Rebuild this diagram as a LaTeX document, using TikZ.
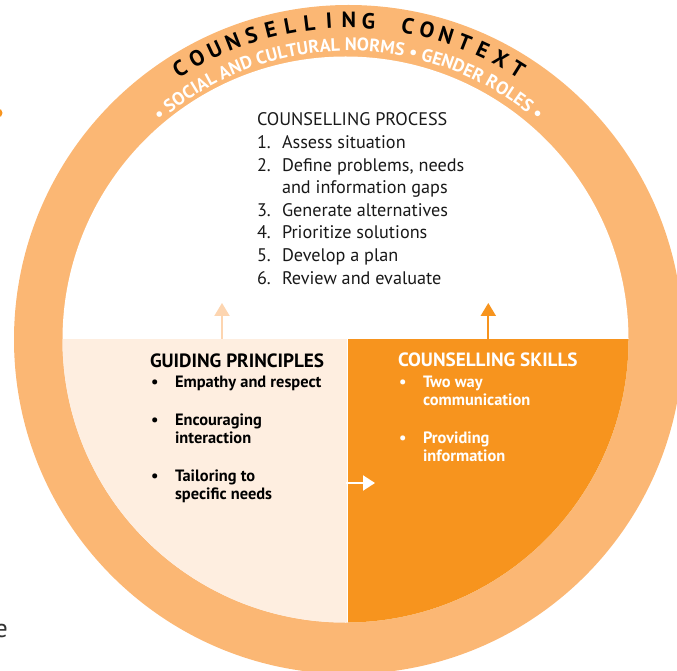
\documentclass[tikz,border=0pt]{standalone}
\usepackage{fontspec}
\setmainfont{PT Sans}
\usetikzlibrary{decorations.text, arrows.meta}
\definecolor{ringc}{RGB}{251,183,116}
\definecolor{lightq}{RGB}{254,238,224}
\definecolor{orangeq}{RGB}{247,148,30}
\definecolor{lightarr}{RGB}{253,213,176}
\begin{document}
\begin{tikzpicture}[x=1pt,y=1pt,
  txt/.style={anchor=base west, inner sep=0pt, outer sep=0pt},
  proc/.style={txt, font=\fontsize{18.2}{20}\selectfont, text=black!90},
  gtitle/.style={txt, font=\fontsize{19.2}{20}\selectfont\bfseries},
  gitem/.style={txt, font=\fontsize{16.4}{18}\selectfont\bfseries},
  arc letter/.style={anchor=base, inner sep=0pt, font=\fontsize{22}{22}\selectfont\bfseries},
  uparrow/.style={line width=2pt, -{Triangle[width=15pt,length=13pt]}}
]
\useasboundingbox (0,0) rectangle (677,670);
\coordinate (O) at (348.5,330.5);
\coordinate (I) at (345.5,330.5);
% ring
\fill[ringc] (O) circle[radius=334.5];
\fill[white] (I) circle[radius=283];
% quadrants
\begin{scope}
  \clip (I) circle[radius=283];
  \fill[lightq] (0,0) rectangle (346.5,331);
  \fill[orangeq] (347.5,0) rectangle (677,331);
  \draw[white, line width=0.8pt] (347,331) -- (347,0);
\end{scope}
% stray marks
\fill[orangeq] (-2,557) circle[radius=4.5];
\node[anchor=base east, inner sep=0pt, font=\fontsize{26}{26}\selectfont, text=black!80] (stray) at (8,33) {e};
% arc texts
\foreach \ch [count=\i from 0] in {C,O,U,N,S,E,L,L,I,N,G,{},C,O,N,T,E,X,T}{
  \pgfmathsetmacro{\ang}{121.9-3.55*\i}
  \node[arc letter, rotate=\ang-90] (L\i) at ([shift={(\ang:311.5)}]O) {\ch};
}
\path[decorate, decoration={text along path, text align=center, text color=white,
  text={|\fontsize{18.1}{18.1}\selectfont\bfseries|• SOCIAL AND CULTURAL NORMS • GENDER ROLES •}}]
  ([shift={(160:288.5)}]O) arc[start angle=160, end angle=20, radius=288.5];
% counselling process
\node[proc] (p0) at (257,544) {COUNSELLING PROCESS};
\node[proc] (n1) at (257,521.4) {1.};
\node[proc] (p1) at (282,521.4) {Assess situation};
\node[proc] (n2) at (257,498.8) {2.};
\node[proc] (p2) at (282,498.8) {Define problems, needs};
\node[proc] (p2b) at (282,476.2) {and information gaps};
\node[proc] (n3) at (257,453.6) {3.};
\node[proc] (p3) at (282,453.6) {Generate alternatives};
\node[proc] (n4) at (257,431) {4.};
\node[proc] (p4) at (282,431) {Prioritize solutions};
\node[proc] (n5) at (257,408.4) {5.};
\node[proc] (p5) at (282,408.4) {Develop a plan};
\node[proc] (n6) at (257,385.8) {6.};
\node[proc] (p6) at (282,385.8) {Review and evaluate};
% guiding principles
\node[gtitle] (gt) at (150,302) {GUIDING PRINCIPLES};
\node[gitem] (gb1) at (151,283) {•};
\node[gitem] (g1) at (175,283) {Empathy and respect};
\node[gitem] (gb2) at (151,245) {•};
\node[gitem] (g2) at (175,245) {Encouraging};
\node[gitem] (g2b) at (175,227) {interaction};
\node[gitem] (gb3) at (151,189) {•};
\node[gitem] (g3) at (175,189) {Tailoring to};
\node[gitem] (g3b) at (175,171) {specific needs};
% counselling skills
\begin{scope}[text=white]
\node[gtitle] (st) at (398,303) {COUNSELLING SKILLS};
\node[gitem] (sb1) at (399,283) {•};
\node[gitem] (s1) at (423,283) {Two way};
\node[gitem] (s1b) at (423,265) {communication};
\node[gitem] (sb2) at (399,227) {•};
\node[gitem] (s2) at (423,227) {Providing};
\node[gitem] (s2b) at (423,209) {information};
\end{scope}
% arrows
\coordinate (a1s) at (222,331);
\coordinate (a1e) at (222,367);
\coordinate (a2s) at (488.3,331);
\coordinate (a2e) at (488.3,367);
\coordinate (a3s) at (346,187);
\coordinate (a3e) at (375,187);
\draw[uparrow, lightarr] (a1s) -- (a1e);
\draw[uparrow, orangeq] (a2s) -- (a2e);
\draw[white, line width=2pt, -{Triangle[width=15pt,length=12pt]}] (a3s) -- (a3e);
\end{tikzpicture}
\end{document}
